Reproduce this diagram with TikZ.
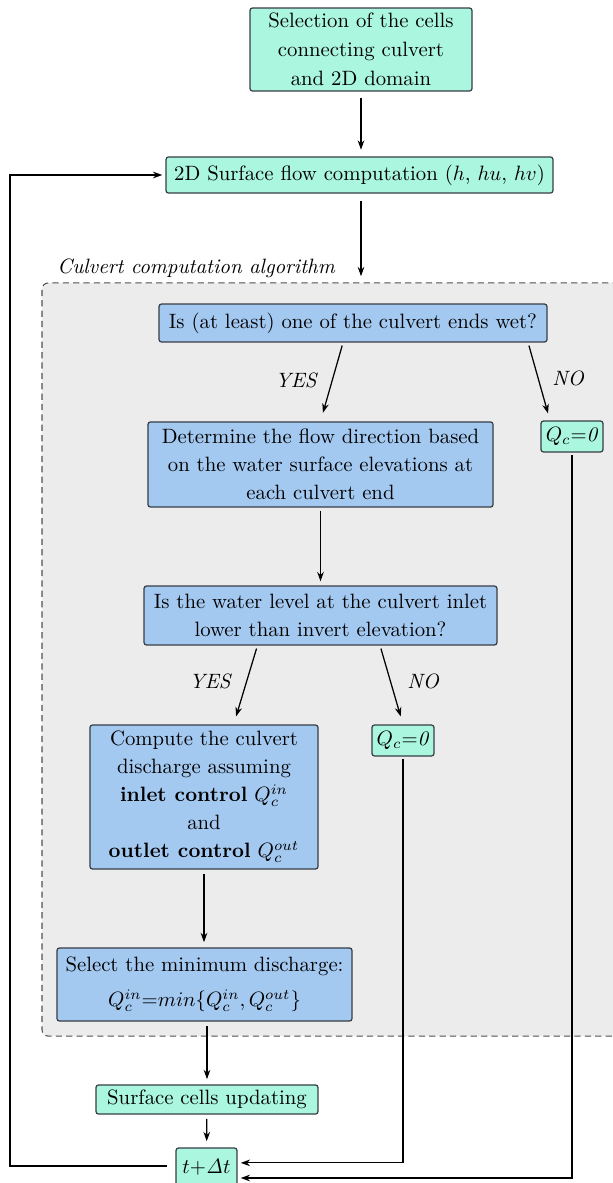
\documentclass[tikz,border=0pt]{standalone}
\usetikzlibrary{arrows.meta,calc}
\definecolor{gfill}{RGB}{170,246,222}
\definecolor{bfill}{RGB}{164,201,241}
\definecolor{bordc}{RGB}{55,62,70}
\definecolor{cbg}{RGB}{236,236,236}
\definecolor{dashc}{RGB}{80,80,80}
\begin{document}
\begin{tikzpicture}[x=0.482pt,y=-0.482pt,
  every node/.style={font=\fontsize{10}{13.5}\selectfont},
  basebox/.style={draw=bordc,line width=0.6pt,rounded corners=1.2pt,align=center,inner sep=0pt},
  gbox/.style={basebox,fill=gfill},
  bbox/.style={basebox,fill=bfill},
  arr/.style={-{Stealth[length=4.5pt,width=3.2pt]},line width=0.6pt,shorten >=2.5pt,shorten <=2pt},
  lbl/.style={font=\fontsize{10}{12}\itshape}]
\useasboundingbox (0,0) rectangle (612,1183);
% culvert region
\node[draw=dashc,dashed,dash pattern=on 3pt off 2pt,fill=cbg,line width=0.5pt,rounded corners=3pt,
      minimum width=281pt,minimum height=363pt,inner sep=0pt] (cbox) at (333.5,659.5) {};
\node[anchor=base west,font=\fontsize{10}{12}\itshape,inner sep=0pt] (ctitle) at (57,273) {Culvert computation algorithm};
% nodes
\node[gbox,minimum width=107pt,minimum height=40pt,font=\fontsize{10}{14}\selectfont] (sel) at (361,49.5)
  {Selection of the cells\\connecting culvert\\and 2D domain};
\node[gbox,minimum width=186.5pt,minimum height=17.4pt] (surf) at (359.5,175)
  {2D Surface flow computation ($h$, $hu$, $hv$)};
\node[bbox,minimum width=187pt,minimum height=18.3pt] (is1) at (353,323)
  {Is (at least) one of the culvert ends wet?};
\node[bbox,minimum width=166.3pt,minimum height=41pt] (det) at (320.5,464.5)
  {Determine the flow direction based\\on the water surface elevations at\\each culvert end};
\node[gbox,minimum width=29.9pt,minimum height=14.9pt] (qc1) at (572,436.5) {$Q_c$=\textit{0}};
\node[bbox,minimum width=170.1pt,minimum height=28.4pt] (is2) at (320.5,615.5)
  {Is the water level at the culvert inlet\\lower than invert elevation?};
\node[gbox,minimum width=29.9pt,minimum height=14.9pt] (qc2) at (403,740.5) {$Q_c$=\textit{0}};
\node[bbox,minimum width=109.9pt,minimum height=69.4pt] (comp) at (204,797)
  {Compute the culvert\\discharge assuming\\\textbf{inlet control} $Q_c^{in}$\\and\\\textbf{outlet control} $Q_c^{out}$};
\node[bbox,minimum width=142.2pt,minimum height=35.2pt,font=\fontsize{10}{17}\selectfont] (selmin) at (204.5,984.5)
  {Select the minimum discharge:\\$Q_c^{in}$=$min\{Q_c^{in},Q_c^{out}\}$};
\node[gbox,minimum width=107pt,minimum height=14pt] (scu) at (207,1099.5) {Surface cells updating};
\node[gbox,minimum width=29.4pt,minimum height=18.3pt] (tdt) at (206.5,1167) {$t$+$\mathit{\Delta}t$};
% straight arrows
\draw[arr,shorten <=3pt,shorten >=3.2pt] (sel.south) -- (sel.south |- surf.north);
\draw[arr,shorten <=3.4pt,shorten >=3pt] (surf.south -| sel.south) -- (sel.south |- cbox.north);
\draw[arr,shorten <=1.5pt,shorten >=2pt] (det) -- (is2);
\draw[arr] (comp) -- (comp |- selmin.north);
\draw[arr] (scu.north |- selmin.south) -- (scu.north);
\draw[arr,shorten >=3pt] (scu) -- (tdt);
% decisions
\draw[arr,shorten <=1.5pt,shorten >=4.3pt] ([xshift=-4.8pt]is1.south) -- (det.north);
\draw[arr,shorten <=1.5pt,shorten >=3.5pt] ([xshift=84.4pt]is1.south) -- ([xshift=-10.6pt]qc1.north);
\draw[arr,shorten <=1.5pt,shorten >=4pt] ([xshift=-30.4pt]is2.south) -- ([xshift=14.3pt]comp.north);
\draw[arr,shorten <=1.5pt,shorten >=4pt] ([xshift=28.7pt]is2.south) -- (qc2.north);
\node[lbl] (y1) at (296,380) {YES};
\node[lbl] (n1) at (568,378) {NO};
\node[lbl] (y2) at (210,681) {YES};
\node[lbl] (n2) at (423,681) {NO};
% return lines
\coordinate (e1) at ([yshift=2pt]tdt.east);
\coordinate (e2) at ([yshift=-5.3pt]tdt.east);
\draw[arr,shorten <=1.2pt,shorten >=1.5pt] (qc2.south) -- (qc2.south |- e1) -- (e1);
\draw[arr,shorten <=1.2pt,shorten >=1.5pt] (qc1.south) -- (qc1.south |- e2) -- (e2);
\coordinate (lp) at (10,0);
\draw[arr,shorten <=4pt,shorten >=1.5pt] ([yshift=0.5pt]tdt.west) -- ([yshift=0.5pt]tdt.west -| lp) -- (surf.west -| lp) -- (surf.west);
\end{tikzpicture}
\end{document}
